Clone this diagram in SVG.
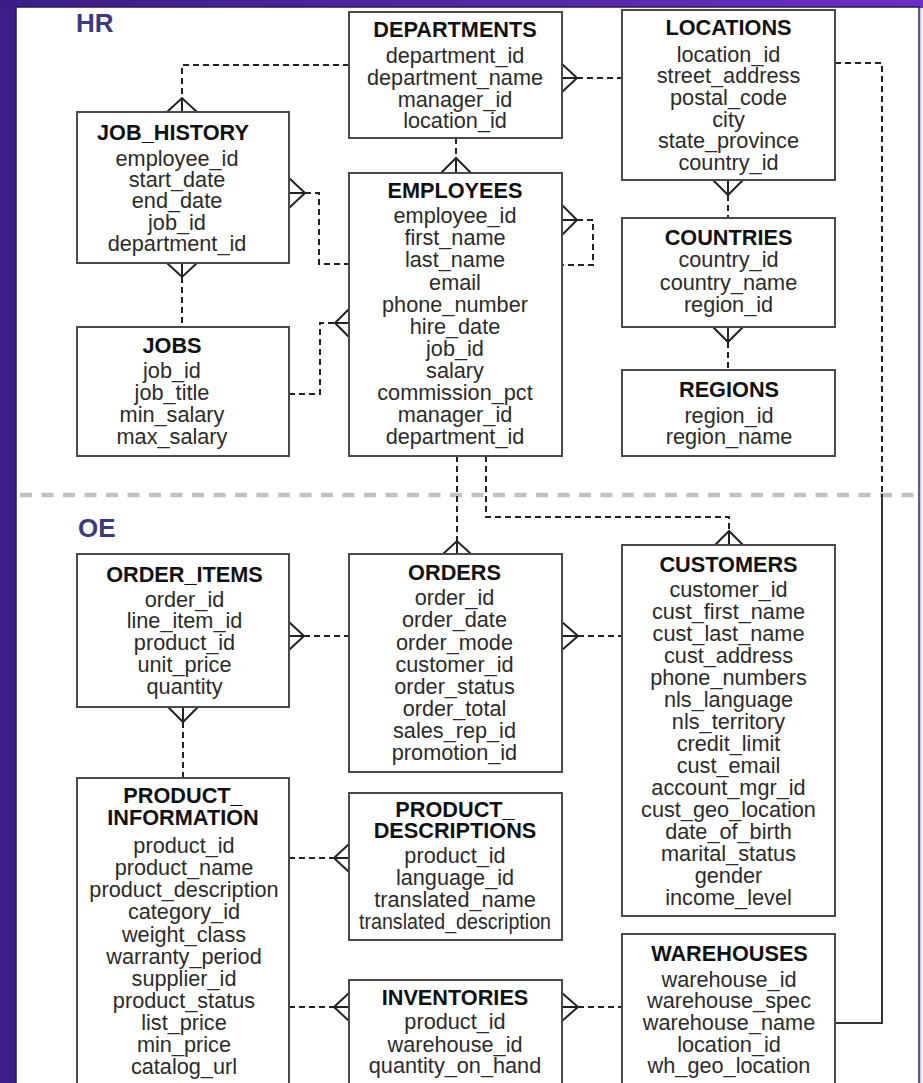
<svg xmlns="http://www.w3.org/2000/svg" width="923" height="1083" viewBox="0 0 923 1083">
<defs>
<linearGradient id="topg" x1="0" y1="0" x2="1" y2="0">
<stop offset="0" stop-color="#3a1e86"/>
<stop offset="1" stop-color="#6a2fc6"/>
</linearGradient>
<style>
.box{fill:#fff;stroke:#4a4a4a;stroke-width:2}
.t{font-family:"Liberation Sans",Arial,sans-serif;font-weight:bold;font-size:21.7px;fill:#111;text-anchor:middle}
.f{font-family:"Liberation Sans",Arial,sans-serif;font-size:21.7px;fill:#2b2b2b;text-anchor:middle}
.lbl{font-family:"Liberation Sans",Arial,sans-serif;font-weight:bold;font-size:26px;fill:#3b3b7d}
.dash{fill:none;stroke:#222;stroke-width:2;stroke-dasharray:6 4}
.solid{fill:none;stroke:#333;stroke-width:2}
.cf{fill:none;stroke:#222;stroke-width:2}
.sep{stroke:#c2c2c2;stroke-width:4.5;stroke-dasharray:12 9.5}
</style>
</defs>
<rect x="0" y="0" width="923" height="1083" fill="#3c1f89"/>
<rect x="0" y="0" width="923" height="8" fill="url(#topg)"/>
<rect x="16" y="7" width="903" height="1080" fill="#fff" stroke="#2a1a50" stroke-width="1.5"/>
<rect x="920" y="8" width="3" height="1075" fill="#f2eef9"/>
<line x1="919.5" y1="8" x2="919.5" y2="1083" stroke="#6a4fb0" stroke-width="1.5"/>

<text class="lbl" x="76" y="32">HR</text>
<text class="lbl" x="78" y="537">OE</text>
<line class="sep" x1="20" y1="495" x2="916" y2="495"/>

<g id="connectors">
<!-- DEPARTMENTS - JOB_HISTORY -->
<path class="dash" d="M349,65 H182 V98"/>
<path class="cf" d="M167,112 L182,98 L197,112 M182,98 V112"/>
<!-- DEPARTMENTS - LOCATIONS -->
<path class="cf" d="M562,64 L577,78 L562,92 M562,78 H577"/>
<path class="dash" d="M577,78 H622"/>
<!-- DEPARTMENTS - EMPLOYEES -->
<path class="dash" d="M456,138 V157"/>
<path class="cf" d="M441,173 L456,158 L471,173 M456,158 V173"/>
<!-- LOCATIONS - WAREHOUSES -->
<path class="dash" d="M835,63 H882 V494"/>
<path class="solid" d="M882,494 V1023 H835"/>
<!-- LOCATIONS - COUNTRIES -->
<path class="cf" d="M713,180 L728,195 L743,180 M728,180 V195"/>
<path class="dash" d="M728,195 V218"/>
<!-- COUNTRIES - REGIONS -->
<path class="cf" d="M713,327 L728,342 L743,327 M728,327 V342"/>
<path class="dash" d="M728,342 V370"/>
<!-- JOB_HISTORY - EMPLOYEES -->
<path class="cf" d="M289,178 L305,193 L289,208 M289,193 H305"/>
<path class="dash" d="M305,193 H319 V264 H349"/>
<!-- JOB_HISTORY - JOBS -->
<path class="cf" d="M167,263 L182,277 L197,263 M182,263 V277"/>
<path class="dash" d="M182,277 V327"/>
<!-- JOBS - EMPLOYEES -->
<path class="dash" d="M289,394 H320 V323 H335"/>
<path class="cf" d="M349,309 L335,323 L349,337 M335,323 H349"/>
<!-- EMPLOYEES self -->
<path class="cf" d="M562,205 L577,220 L562,235 M562,220 H577"/>
<path class="dash" d="M577,220 H593 V265 H562"/>
<!-- EMPLOYEES - ORDERS -->
<path class="dash" d="M457,456 V541"/>
<path class="cf" d="M443,554 L457,541 L471,554 M457,541 V554"/>
<!-- EMPLOYEES - CUSTOMERS -->
<path class="dash" d="M486,456 V517 H729 V531"/>
<path class="cf" d="M715,545 L729,531 L743,545 M729,531 V545"/>
<!-- ORDERS - CUSTOMERS -->
<path class="cf" d="M562,622 L578,636 L562,650 M562,636 H578"/>
<path class="dash" d="M578,636 H622"/>
<!-- ORDER_ITEMS - ORDERS -->
<path class="cf" d="M289,622 L304,636 L289,650 M289,636 H304"/>
<path class="dash" d="M304,636 H349"/>
<!-- ORDER_ITEMS - PRODUCT_INFORMATION -->
<path class="cf" d="M168,707 L183,722 L198,707 M183,707 V722"/>
<path class="dash" d="M183,722 V778"/>
<!-- PRODUCT_INFORMATION - PRODUCT_DESCRIPTIONS -->
<path class="dash" d="M289,858 H334"/>
<path class="cf" d="M349,844 L334,858 L349,872 M334,858 H349"/>
<!-- PRODUCT_INFORMATION - INVENTORIES -->
<path class="dash" d="M289,1007 H334"/>
<path class="cf" d="M349,993 L334,1007 L349,1021 M334,1007 H349"/>
<!-- INVENTORIES - WAREHOUSES -->
<path class="cf" d="M562,993 L578,1007 L562,1021 M562,1007 H578"/>
<path class="dash" d="M578,1007 H622"/>
</g>

<g id="departments">
<rect class="box" x="349" y="12" width="213" height="126"/>
<text class="t" x="455" y="37">DEPARTMENTS</text>
<text class="f" x="455" y="63">department_id</text>
<text class="f" x="455" y="85">department_name</text>
<text class="f" x="455" y="107">manager_id</text>
<text class="f" x="455" y="128">location_id</text>
</g>

<g id="locations">
<rect class="box" x="622" y="10" width="213" height="170"/>
<text class="t" x="728.5" y="35">LOCATIONS</text>
<text class="f" x="728.5" y="62">location_id</text>
<text class="f" x="728.5" y="83">street_address</text>
<text class="f" x="728.5" y="105">postal_code</text>
<text class="f" x="728.5" y="127">city</text>
<text class="f" x="728.5" y="148">state_province</text>
<text class="f" x="728.5" y="170">country_id</text>
</g>

<g id="job_history">
<rect class="box" x="77" y="112" width="212" height="151"/>
<text class="t" x="173" y="140">JOB_HISTORY</text>
<text class="f" x="177" y="166">employee_id</text>
<text class="f" x="177" y="187">start_date</text>
<text class="f" x="177" y="208">end_date</text>
<text class="f" x="177" y="230">job_id</text>
<text class="f" x="177" y="251">department_id</text>
</g>

<g id="employees">
<rect class="box" x="349" y="173" width="213" height="283"/>
<text class="t" x="455" y="198">EMPLOYEES</text>
<text class="f" x="455" y="223">employee_id</text>
<text class="f" x="455" y="245">first_name</text>
<text class="f" x="455" y="267">last_name</text>
<text class="f" x="455" y="290">email</text>
<text class="f" x="455" y="312">phone_number</text>
<text class="f" x="455" y="334">hire_date</text>
<text class="f" x="455" y="356">job_id</text>
<text class="f" x="455" y="378">salary</text>
<text class="f" x="455" y="400">commission_pct</text>
<text class="f" x="455" y="422">manager_id</text>
<text class="f" x="455" y="444">department_id</text>
</g>

<g id="countries">
<rect class="box" x="622" y="218" width="213" height="109"/>
<text class="t" x="728.5" y="245">COUNTRIES</text>
<text class="f" x="728.5" y="267">country_id</text>
<text class="f" x="728.5" y="290">country_name</text>
<text class="f" x="728.5" y="312">region_id</text>
</g>

<g id="jobs">
<rect class="box" x="77" y="327" width="212" height="129"/>
<text class="t" x="172" y="353">JOBS</text>
<text class="f" x="172" y="378">job_id</text>
<text class="f" x="172" y="400">job_title</text>
<text class="f" x="172" y="422">min_salary</text>
<text class="f" x="172" y="444">max_salary</text>
</g>

<g id="regions">
<rect class="box" x="622" y="370" width="213" height="86"/>
<text class="t" x="729" y="397">REGIONS</text>
<text class="f" x="729" y="423">region_id</text>
<text class="f" x="729" y="444">region_name</text>
</g>

<g id="order_items">
<rect class="box" x="77" y="554" width="212" height="153"/>
<text class="t" x="184.5" y="582">ORDER_ITEMS</text>
<text class="f" x="184.5" y="607">order_id</text>
<text class="f" x="184.5" y="628">line_item_id</text>
<text class="f" x="184.5" y="650">product_id</text>
<text class="f" x="184.5" y="672">unit_price</text>
<text class="f" x="184.5" y="694">quantity</text>
</g>

<g id="orders">
<rect class="box" x="349" y="554" width="213" height="218"/>
<text class="t" x="454.5" y="580">ORDERS</text>
<text class="f" x="454.5" y="605">order_id</text>
<text class="f" x="454.5" y="627">order_date</text>
<text class="f" x="454.5" y="650">order_mode</text>
<text class="f" x="454.5" y="672">customer_id</text>
<text class="f" x="454.5" y="694">order_status</text>
<text class="f" x="454.5" y="716">order_total</text>
<text class="f" x="454.5" y="738">sales_rep_id</text>
<text class="f" x="454.5" y="760">promotion_id</text>
</g>

<g id="customers">
<rect class="box" x="622" y="545" width="213" height="371"/>
<text class="t" x="728.5" y="572">CUSTOMERS</text>
<text class="f" x="728.5" y="597">customer_id</text>
<text class="f" x="728.5" y="619">cust_first_name</text>
<text class="f" x="728.5" y="641">cust_last_name</text>
<text class="f" x="728.5" y="663">cust_address</text>
<text class="f" x="728.5" y="685">phone_numbers</text>
<text class="f" x="728.5" y="707">nls_language</text>
<text class="f" x="728.5" y="729">nls_territory</text>
<text class="f" x="728.5" y="751">credit_limit</text>
<text class="f" x="728.5" y="773">cust_email</text>
<text class="f" x="728.5" y="795">account_mgr_id</text>
<text class="f" x="728.5" y="817">cust_geo_location</text>
<text class="f" x="728.5" y="839">date_of_birth</text>
<text class="f" x="728.5" y="861">marital_status</text>
<text class="f" x="728.5" y="883">gender</text>
<text class="f" x="728.5" y="905">income_level</text>
</g>

<g id="product_information">
<rect class="box" x="77" y="778" width="212" height="330"/>
<text class="t" x="183" y="803">PRODUCT_</text>
<text class="t" x="183" y="825">INFORMATION</text>
<text class="f" x="184" y="853">product_id</text>
<text class="f" x="184" y="875">product_name</text>
<text class="f" x="184" y="897">product_description</text>
<text class="f" x="184" y="919">category_id</text>
<text class="f" x="184" y="942">weight_class</text>
<text class="f" x="184" y="964">warranty_period</text>
<text class="f" x="184" y="986">supplier_id</text>
<text class="f" x="184" y="1008">product_status</text>
<text class="f" x="184" y="1030">list_price</text>
<text class="f" x="184" y="1052">min_price</text>
<text class="f" x="184" y="1074">catalog_url</text>
</g>

<g id="product_descriptions">
<rect class="box" x="349" y="793" width="213" height="147"/>
<text class="t" x="455" y="817">PRODUCT_</text>
<text class="t" x="455" y="838">DESCRIPTIONS</text>
<text class="f" x="455" y="863">product_id</text>
<text class="f" x="455" y="885">language_id</text>
<text class="f" x="455" y="907">translated_name</text>
<text class="f" x="455" y="929" textLength="192" lengthAdjust="spacingAndGlyphs">translated_description</text>
</g>

<g id="warehouses">
<rect class="box" x="622" y="934" width="213" height="170"/>
<text class="t" x="729.5" y="961">WAREHOUSES</text>
<text class="f" x="729" y="987">warehouse_id</text>
<text class="f" x="729" y="1008">warehouse_spec</text>
<text class="f" x="729" y="1030">warehouse_name</text>
<text class="f" x="729" y="1052">location_id</text>
<text class="f" x="729" y="1073">wh_geo_location</text>
</g>

<g id="inventories">
<rect class="box" x="349" y="980" width="213" height="124"/>
<text class="t" x="455" y="1005">INVENTORIES</text>
<text class="f" x="455" y="1029">product_id</text>
<text class="f" x="455" y="1052">warehouse_id</text>
<text class="f" x="455" y="1073">quantity_on_hand</text>
</g>
</svg>
